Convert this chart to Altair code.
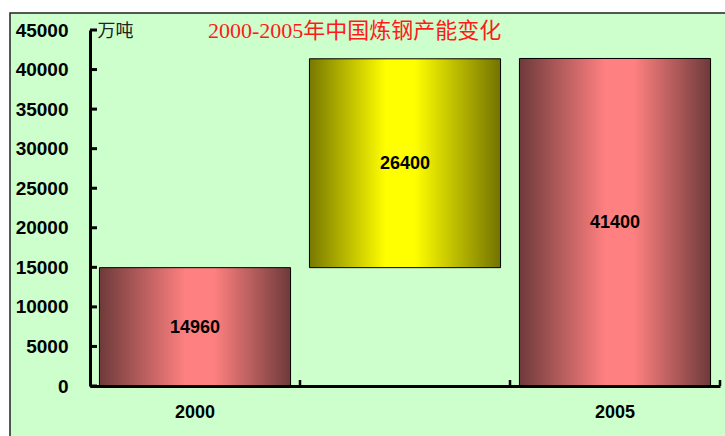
import altair as alt
import pandas as pd

# ---- data ----
categories = ["2000", "新增", "2005"]
bar_start = [0, 14960, 0]
bar_end = [14960, 41360, 41400]
bar_label = [14960, 26400, 41400]
bar_kind = ["total", "change", "total"]
y_ticks = [0, 5000, 10000, 15000, 20000, 25000, 30000, 35000, 40000, 45000]
band_edges = [1, 2, 3]

title_text = "2000-2005年中国炼钢产能变化"
unit_text = "万吨"

df = pd.DataFrame({"cat": categories, "start": bar_start, "end": bar_end,
                   "label": bar_label, "kind": bar_kind})

W, H = 630, 356
SANS = "Liberation Sans"
SERIF = "Liberation Serif, Noto Sans CJK SC"

pink = alt.LinearGradient(
    gradient="linear", x1=0, x2=1, y1=0, y2=0,
    stops=[alt.GradientStop(offset=0, color="#6e3a3a"),
           alt.GradientStop(offset=0.45, color="#ff8080"),
           alt.GradientStop(offset=0.6, color="#ff8080"),
           alt.GradientStop(offset=1, color="#6e3a3a")])
yellow = alt.LinearGradient(
    gradient="linear", x1=0, x2=1, y1=0, y2=0,
    stops=[alt.GradientStop(offset=0, color="#787800"),
           alt.GradientStop(offset=0.4, color="#ffff00"),
           alt.GradientStop(offset=0.55, color="#ffff00"),
           alt.GradientStop(offset=1, color="#737300")])

x_scale = alt.Scale(domain=categories, paddingInner=0.09, paddingOuter=0.045)
x_axis = alt.Axis(title=None, labelAngle=0,
                  labelExpr="datum.label == '新增' ? '' : datum.label",
                  domainWidth=3, domainColor="black", ticks=False,
                  labelFont=SANS, labelFontSize=18, labelFontWeight="bold",
                  labelColor="black", labelPadding=17, zindex=1)
y_scale = alt.Scale(domain=[0, 45000], nice=False)
y_axis = alt.Axis(values=y_ticks, format="d", title=unit_text, titleAngle=0,
                  titleX=7, titleY=1, titleAlign="left", titleBaseline="middle",
                  titleFont=SERIF, titleFontSize=18, titleFontWeight="normal",
                  titleColor="#222222", grid=False, ticks=False,
                  domainWidth=3, domainColor="black",
                  labelFont=SANS, labelFontSize=19, labelFontWeight="bold",
                  labelColor="black", labelPadding=22, zindex=1)


def X(field="cat:N"):
    return alt.X(field, scale=x_scale, axis=x_axis)


def Y(field):
    return alt.Y(field, scale=y_scale, axis=y_axis)


base = alt.Chart(df)

bg = alt.Chart(pd.DataFrame({"a": [0]})).mark_rect(
    fill="#CCFFCC", stroke="#222222", strokeWidth=1.5).encode(
    x=alt.value(-80), x2=alt.value(W + 100), y=alt.value(-17), y2=alt.value(H + 100))

pink_bars = base.transform_filter("datum.kind == 'total'").mark_bar(
    fill=pink, stroke="black", strokeWidth=1).encode(
    x=X(), y=Y("start:Q"), y2="end:Q")

yellow_bars = base.transform_filter("datum.kind == 'change'").mark_bar(
    fill=yellow, stroke="black", strokeWidth=1).encode(
    x=X(), y=Y("start:Q"), y2="end:Q")

labels = base.transform_calculate(mid="(datum.start + datum.end) / 2").mark_text(
    font=SANS, fontSize=18, fontWeight="bold", color="black", dy=1).encode(
    x=X(), y=Y("mid:Q"), text=alt.Text("label:Q", format="d"))

ytick_rules = alt.Chart(pd.DataFrame({"t": y_ticks})).mark_rule(
    color="black", strokeWidth=3).encode(
    y=Y("t:Q"), x=alt.value(0), x2=alt.value(7))

title = alt.Chart(pd.DataFrame({"t": [title_text]})).mark_text(
    align="left", baseline="middle", font=SERIF, fontSize=22, color="#ff1a1a").encode(
    x=alt.value(118), y=alt.value(1), text="t:N")

main = alt.layer(bg, pink_bars, yellow_bars, labels, ytick_rules, title)

xtick_rules = alt.Chart(pd.DataFrame({"e": band_edges})).mark_rule(
    color="black", strokeWidth=2.5).encode(
    x=alt.X("e:Q", scale=alt.Scale(domain=[0, 3], nice=False), axis=None),
    y=alt.value(H - 6), y2=alt.value(H))

chart = alt.layer(main, xtick_rules).resolve_scale(x="independent").properties(
    width=W, height=H,
    autosize=alt.AutoSizeParams(type="none"),
    padding={"left": 90, "top": 30, "right": 5, "bottom": 50},
    background="white",
).configure_view(strokeWidth=0)

chart.save("out.html", embed_options={"renderer": "svg", "actions": False})
